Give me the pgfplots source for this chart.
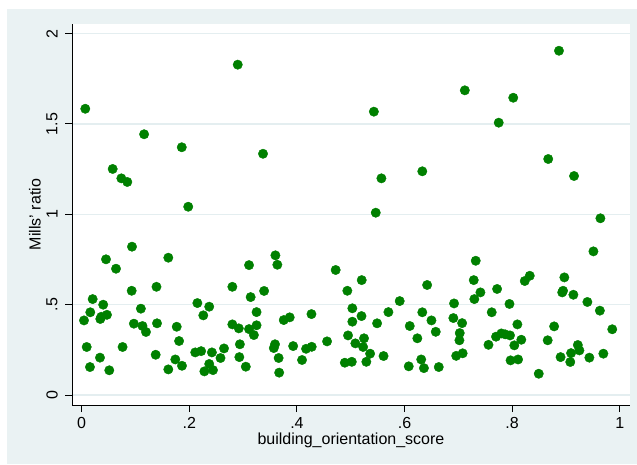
\documentclass[border=0pt]{standalone}
\usepackage{fontspec}
\setmainfont{Liberation Sans}
\usepackage{pgfplots}
\pgfplotsset{compat=1.18}
\definecolor{stbg}{RGB}{234,242,243}
\definecolor{stgrid}{RGB}{228,238,240}
\definecolor{stgreen}{RGB}{0,128,0}

\begin{document}
\fontsize{16}{19}\selectfont
\begin{tikzpicture}[x=1pt,y=1pt]
\useasboundingbox (0,0) rectangle (637,464);
\fill[stbg] (7,0) rectangle (637,455);
\begin{axis}[
    at={(72pt,59pt)}, anchor=south west,
    scale only axis,
    width=558pt, height=381pt,
    xmin=-0.018, xmax=1.019,
    ymin=-0.055, ymax=2.053,
    axis background/.style={fill=white},
    axis x line*=bottom, axis y line*=left,
    axis line style={line width=0.9pt, -},
    tick align=outside,
    major tick length=7pt,
    tick style={black, line width=0.9pt},
    xtick={0,0.2,0.4,0.6,0.8,1},
    xticklabels={0,.2,.4,.6,.8,1},
    ytick={0,0.5,1,1.5,2},
    yticklabels={0,.5,1,1.5,2},
    yticklabel style={rotate=90, anchor=center, inner sep=0pt, yshift=13pt},
    xticklabel style={anchor=north, inner sep=0pt, yshift=-5pt},
    /pgf/number format/assume math mode=true,
    ymajorgrids=true,
    major grid style={draw=stgrid, line width=1.2pt},
    xlabel={building\_orientation\_score},
    ylabel={Mills' ratio},
    xlabel style={at={(axis description cs:0.5,-0.0919)}, anchor=center, inner sep=0pt},
    ylabel style={at={(axis description cs:-0.0663,0.5)}, anchor=center, inner sep=0pt},
]
\addplot[only marks, mark=*, mark size=4.7pt, color=stgreen, mark options={draw=stgreen, fill=stgreen}]
    coordinates {
    (0.0067,1.584)(0.290,1.828)(0.116,1.443)(0.186,1.371)(0.0576,1.251)(0.0737,1.199)
    (0.0848,1.179)(0.337,1.335)(0.543,1.568)(0.557,1.199)(0.633,1.238)(0.887,1.905)
    (0.712,1.686)(0.802,1.645)(0.775,1.507)(0.867,1.306)(0.915,1.212)
    (0.198,1.042)(0.0935,0.821)(0.0452,0.751)(0.0638,0.699)(0.161,0.760)(0.311,0.719)
    (0.0929,0.577)(0.139,0.599)(0.280,0.599)(0.314,0.542)(0.0204,0.531)(0.040,0.500)
    (0.110,0.478)(0.016,0.458)(0.047,0.444)(0.0364,0.433)(0.0346,0.421)(0.0043,0.413)
    (0.097,0.395)(0.113,0.382)(0.1195,0.349)(0.140,0.397)(0.215,0.509)(0.237,0.489)
    (0.226,0.441)(0.1766,0.378)(0.181,0.299)(0.0093,0.266)(0.076,0.266)(0.034,0.207)
    (0.0154,0.155)(0.0513,0.137)(0.1375,0.223)(0.174,0.197)(0.1864,0.162)(0.161,0.142)
    (0.211,0.236)(0.222,0.243)(0.242,0.236)(0.2645,0.258)(0.258,0.205)(0.237,0.172)
    (0.228,0.131)(0.244,0.138)(0.280,0.391)(0.292,0.369)(0.311,0.365)(0.320,0.332)
    (0.325,0.459)(0.325,0.386)(0.294,0.281)(0.293,0.210)(0.305,0.157)
    (0.5465,1.009)(0.360,0.773)(0.3636,0.721)(0.472,0.692)(0.5204,0.636)(0.339,0.576)
    (0.4937,0.577)(0.642,0.609)(0.591,0.520)(0.503,0.480)(0.570,0.459)(0.633,0.458)
    (0.520,0.437)(0.427,0.448)(0.3866,0.430)(0.3755,0.415)(0.503,0.406)(0.549,0.397)
    (0.650,0.413)(0.6097,0.382)(0.658,0.350)(0.6238,0.314)(0.495,0.330)(0.5247,0.314)
    (0.5086,0.286)(0.523,0.266)(0.536,0.229)(0.561,0.216)(0.529,0.184)(0.502,0.184)
    (0.489,0.179)(0.3593,0.281)(0.357,0.260)(0.393,0.271)(0.366,0.205)(0.367,0.124)
    (0.417,0.256)(0.4275,0.267)(0.4095,0.194)(0.456,0.297)(0.6078,0.159)(0.631,0.197)
    (0.636,0.149)(0.6636,0.155)
    (0.964,0.978)(0.951,0.795)(0.7323,0.743)(0.7286,0.636)(0.8327,0.660)(0.8234,0.631)
    (0.897,0.651)(0.772,0.587)(0.741,0.568)(0.8946,0.577)(0.893,0.568)(0.9138,0.555)
    (0.7297,0.531)(0.692,0.507)(0.795,0.504)(0.9398,0.515)(0.762,0.458)(0.963,0.467)
    (0.6907,0.426)(0.707,0.398)(0.8097,0.391)(0.878,0.380)(0.986,0.364)(0.7026,0.343)
    (0.702,0.303)(0.770,0.323)(0.780,0.341)(0.787,0.336)(0.796,0.330)(0.756,0.278)
    (0.817,0.306)(0.804,0.275)(0.866,0.303)(0.922,0.277)(0.925,0.247)(0.9095,0.232)
    (0.9695,0.229)(0.696,0.217)(0.708,0.231)(0.890,0.210)(0.9435,0.207)(0.908,0.183)
    (0.797,0.192)(0.811,0.197)(0.8494,0.118)
    };
\end{axis}
\end{tikzpicture}
\end{document}
